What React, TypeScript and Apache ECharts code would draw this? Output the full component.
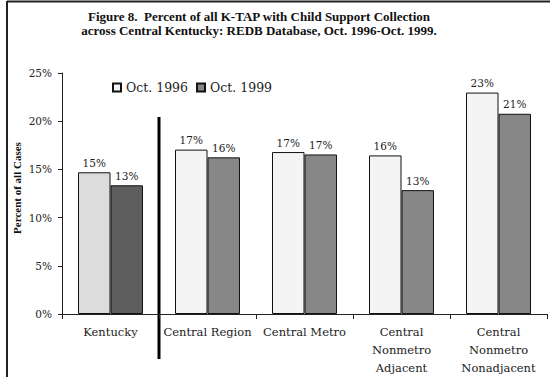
import React, { useEffect, useRef } from "react";
import * as echarts from "echarts";

const categories = ["Kentucky", "Central Region", "Central Metro", "Central\nNonmetro\nAdjacent", "Central\nNonmetro\nNonadjacent"];
const oct1996 = [14.7, 17.05, 16.8, 16.45, 22.97];
const oct1999 = [13.35, 16.25, 16.55, 12.85, 20.77];
const yTicks = [0, 5, 10, 15, 20, 25];
const seriesNames = ["Oct. 1996", "Oct. 1999"];

const SERIF_BOLD = "Liberation Serif";
const SERIF = "DejaVu Serif";

export default function App() {
  const ref = useRef<HTMLDivElement>(null);
  useEffect(() => {
    if (!ref.current) return;
    const chart = echarts.init(ref.current, undefined, { renderer: "svg" });
    const label = {
      show: true,
      position: "top" as const,
      distance: 4,
      fontFamily: SERIF,
      fontSize: 10.5,
      color: "#222",
      formatter: (p: any) => `${Math.round(p.value)}%`,
    };
    const lightColors = ["#DCDCDC", "#F4F4F4"];
    const darkColors = ["#5E5E5E", "#878787"];
    chart.setOption({
      animation: false,
      backgroundColor: "#fff",
      title: {
        text: "Figure 8.  Percent of all K-TAP with Child Support Collection\nacross Central Kentucky: REDB Database, Oct. 1996-Oct. 1999.",
        left: 259,
        top: 9,
        padding: 0,
        textAlign: "center",
        textStyle: { fontFamily: SERIF_BOLD, fontSize: 13, fontWeight: "bold", color: "#111", lineHeight: 14 },
      },
      legend: {
        data: seriesNames,
        left: 112,
        top: 81,
        padding: 0,
        icon: "rect",
        itemWidth: 8,
        itemHeight: 8,
        itemGap: 8,
        textStyle: { fontFamily: SERIF, fontSize: 12.5, color: "#222" },
      },
      grid: { left: 62, right: 3, top: 73, bottom: 62, containLabel: false },
      xAxis: {
        type: "category",
        data: categories,
        axisLine: { lineStyle: { color: "#222", width: 1 } },
        axisTick: { show: true, length: 5, lineStyle: { color: "#222" } },
        axisLabel: { fontFamily: SERIF, fontSize: 11.5, color: "#222", lineHeight: 18, margin: 9, interval: 0 },
      },
      yAxis: {
        type: "value",
        min: 0,
        max: 25,
        interval: 5,
        axisLine: { show: true, lineStyle: { color: "#222", width: 1 } },
        axisTick: { show: true, inside: false, length: 4, lineStyle: { color: "#222" } },
        splitLine: { show: false },
        axisLabel: {
          fontFamily: SERIF,
          fontSize: 10.5,
          color: "#222",
          margin: 10,
          formatter: (v: number) => (yTicks.includes(v) ? `${v}%` : ""),
        },
      },
      series: [
        {
          name: seriesNames[0],
          type: "bar",
          barGap: "0%",
          barCategoryGap: "33%",
          itemStyle: { color: lightColors[1], borderColor: "#111", borderWidth: 1 },
          label,
          data: oct1996.map((v, i) => (i === 0 ? { value: v, itemStyle: { color: lightColors[0] } } : v)),
        },
        {
          name: seriesNames[1],
          type: "bar",
          barGap: "0%",
          barCategoryGap: "33%",
          itemStyle: { color: darkColors[1], borderColor: "#111", borderWidth: 1 },
          label,
          data: oct1999.map((v, i) => (i === 0 ? { value: v, itemStyle: { color: darkColors[0] } } : v)),
        },
      ],
    });
    const x0 = chart.convertToPixel({ xAxisIndex: 0 }, 0) as number;
    const x1 = chart.convertToPixel({ xAxisIndex: 0 }, 1) as number;
    const bx = Math.round((x0 + x1) / 2);
    chart.setOption({
      graphic: [
        { type: "line", shape: { x1: 7, y1: 1.5, x2: 560, y2: 1.5 }, style: { stroke: "#222", lineWidth: 2 } },
        { type: "line", shape: { x1: 7, y1: 1, x2: 7, y2: 400 }, style: { stroke: "#222", lineWidth: 2 } },
        { type: "line", shape: { x1: bx, y1: 117, x2: bx, y2: 359 }, style: { stroke: "#000", lineWidth: 3 } },
        {
          type: "text",
          x: 17,
          y: 188,
          rotation: Math.PI / 2,
          style: {
            text: "Percent of all Cases",
            fontFamily: SERIF_BOLD,
            fontSize: 11,
            fontWeight: "bold",
            fill: "#111",
            align: "center",
            verticalAlign: "middle",
          },
        },
      ],
    });
    return () => chart.dispose();
  }, []);
  return <div ref={ref} style={{ width: 550, height: 377, position: "absolute", left: 0, top: 0 }} />;
}
